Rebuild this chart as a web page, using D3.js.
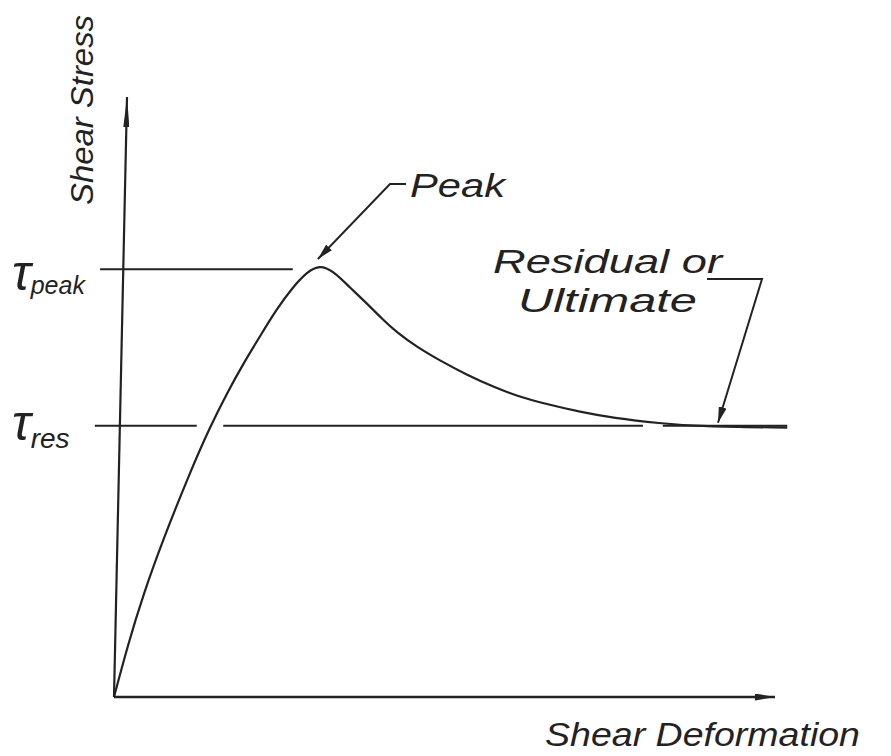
<!DOCTYPE html>
<html>
<head>
<meta charset="utf-8">
<script src="https://cdn.jsdelivr.net/npm/d3@7"></script>
<style>
  body { margin: 0; background: #fff; }
  svg text { font-family: "Liberation Sans", "DejaVu Sans", sans-serif; font-style: italic; fill: #222; }
</style>
</head>
<body>
<div class="vis-container"></div>
<script>
// curve: shear deformation vs shear stress (arbitrary units)
var deformation = [0, 2.1, 4.4, 7.4, 11.5, 14.5, 17.1, 19.5, 22.1, 24.6, 27, 29.2, 31.1, 33.1, 35.6, 38.2, 40.6, 42.7, 45.8, 49.2, 53.3, 57.3, 61.3, 65.4, 70.4, 75.4, 82.5, 88.5, 101.7];
var stress = [0, 8.7, 17, 26.2, 37.5, 45, 50.7, 55.5, 60.2, 64.7, 68.3, 70.9, 72, 71, 68.3, 65.6, 62.9, 60.8, 58.3, 56.1, 53.7, 51.7, 50, 48.8, 47.5, 46.5, 45.6, 45.1, 44.9];

var tauPeak = 71.3;
var tauRes = 45.2;

// the hand-drawn reference lines are broken where the pen lifted
var peakLineSegs = [[-2.1, 27]];
var resLineSegs = [[-2.9, 12.5], [16.5, 79.9], [82.9, 101.7]];

var xMax = 100;
var yMax = 100;

var svg = d3.select(".vis-container").append("svg")
  .attr("width", 891)
  .attr("height", 756);

var x = d3.scaleLinear().domain([0, xMax]).range([114, 776]);
var y = d3.scaleLinear().domain([0, yMax]).range([697, 97]);

var ink = "#222";

// arrowhead markers
var defs = svg.append("defs");
function addMarker(id, len, half) {
  defs.append("marker")
    .attr("id", id)
    .attr("viewBox", "0 " + (-half) + " " + len + " " + (2 * half))
    .attr("refX", len)
    .attr("refY", 0)
    .attr("markerUnits", "userSpaceOnUse")
    .attr("markerWidth", len)
    .attr("markerHeight", 2 * half)
    .attr("orient", "auto")
    .append("path")
    .attr("d", "M0," + (-half) + "L" + len + ",0L0," + half + "Z")
    .attr("fill", ink);
}
addMarker("axisY", 30, 3);
addMarker("axisX", 20, 3.5);
addMarker("callout", 16, 4);

// axes (the hand-drawn vertical axis leans a little)
svg.append("line")
  .attr("x1", x(0)).attr("y1", y(0))
  .attr("x2", x(0) + 13).attr("y2", y(yMax))
  .attr("stroke", ink).attr("stroke-width", 2.2)
  .attr("marker-end", "url(#axisY)");

svg.append("line")
  .attr("x1", x(0)).attr("y1", y(0))
  .attr("x2", x(xMax) - 1).attr("y2", y(0))
  .attr("stroke", ink).attr("stroke-width", 2.4)
  .attr("marker-end", "url(#axisX)");

// tau lines
function drawSegs(segs, level) {
  svg.selectAll(null)
    .data(segs)
    .enter().append("line")
    .attr("x1", function(d) { return x(d[0]); })
    .attr("x2", function(d) { return x(d[1]); })
    .attr("y1", y(level))
    .attr("y2", y(level))
    .attr("stroke", ink)
    .attr("stroke-width", 2);
}
drawSegs(peakLineSegs, tauPeak);
drawSegs(resLineSegs, tauRes);

// stress-deformation curve
var pts = deformation.map(function(d, i) { return [d, stress[i]]; });
var line = d3.line()
  .x(function(d) { return x(d[0]); })
  .y(function(d) { return y(d[1]); })
  .curve(d3.curveBasis);

svg.append("path")
  .attr("d", line(pts))
  .attr("fill", "none")
  .attr("stroke", ink)
  .attr("stroke-width", 2.2);

// callouts
var peakIdx = stress.indexOf(d3.max(stress));
var pkX = x(deformation[peakIdx]) - 2, pkY = y(stress[peakIdx]) - 6;
svg.append("path")
  .attr("d", "M406,184L390,184L" + pkX + "," + pkY)
  .attr("fill", "none")
  .attr("stroke", ink).attr("stroke-width", 2)
  .attr("marker-end", "url(#callout)");

var resX = 718, resY = y(tauRes) - 3;
svg.append("path")
  .attr("d", "M707,279L762,279L" + resX + "," + resY)
  .attr("fill", "none")
  .attr("stroke", ink).attr("stroke-width", 2)
  .attr("marker-end", "url(#callout)");

// labels
function label(tx, ty, size, len, str, rot) {
  var t = svg.append("text")
    .attr("font-size", size)
    .attr("textLength", len)
    .attr("lengthAdjust", "spacingAndGlyphs")
    .text(str);
  if (rot) t.attr("transform", "translate(" + tx + "," + ty + ") rotate(" + rot + ")");
  else t.attr("x", tx).attr("y", ty);
  return t;
}
label(93, 205, 32, 190, "Shear Stress", -90);
label(545, 746, 34, 315, "Shear Deformation");
label(410, 197, 34, 95, "Peak");
label(493, 273, 34, 229, "Residual or");
label(518, 312, 34, 179, "Ultimate");

// tau labels
var tp = svg.append("text").attr("x", 12).attr("y", 290);
tp.append("tspan").attr("font-size", 50).text("τ");
tp.append("tspan").attr("font-size", 25).attr("dy", 4).text("peak");

var tr = svg.append("text").attr("x", 12).attr("y", 440);
tr.append("tspan").attr("font-size", 50).text("τ");
tr.append("tspan").attr("font-size", 28).attr("dy", 8).text("res");
</script>
</body>
</html>
